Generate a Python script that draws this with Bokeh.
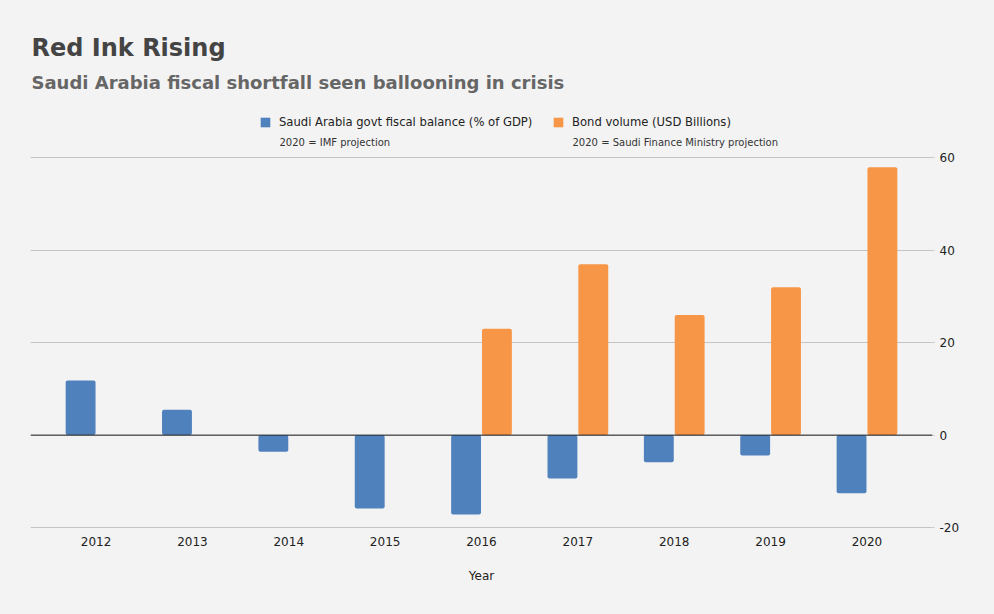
from bokeh.plotting import figure
from bokeh.models import ColumnDataSource, Range1d, FixedTicker, Span, Label, Legend, LegendItem
from bokeh.transform import dodge
from bokeh.embed import file_html
from bokeh.resources import INLINE

years = [2012, 2013, 2014, 2015, 2016, 2017, 2018, 2019, 2020]
year_labels = ["2012", "2013", "2014", "2015", "2016", "2017", "2018", "2019", "2020"]
fiscal_balance = [11.8, 5.5, -3.6, -15.9, -17.2, -9.4, -5.9, -4.4, -12.6]
bond_years = [2016, 2017, 2018, 2019, 2020]
bond_volume = [23, 37, 26, 32, 58]
y_ticks = [-20, 0, 20, 40, 60]
y_tick_labels = ["-20", "0", "20", "40", "60"]

BG = "#f3f3f3"
BLUE = "#4f81bd"
ORANGE = "#f79646"
FONT = "DejaVu Sans"

FRAME_LEFT = 30
FRAME_BOTTOM = 530

src_fiscal = ColumnDataSource(dict(x=years, y=fiscal_balance))
src_bond = ColumnDataSource(dict(x=bond_years, y=bond_volume))

p = figure(width=994, height=614, output_backend="svg", toolbar_location=None,
           x_range=Range1d(2011.32, 2020.68), y_range=Range1d(-20.65, 94.09),
           y_axis_location="right", title=None,
           frame_width=902, frame_height=530,
           min_border_left=FRAME_LEFT, min_border_top=0, min_border_right=62, min_border_bottom=84)
p.background_fill_color = BG
p.border_fill_color = BG
p.outline_line_color = None

r1 = p.vbar(x=dodge("x", -0.16, range=p.x_range), top="y", bottom=0, width=0.31,
            source=src_fiscal, fill_color=BLUE, line_color=None, border_radius=2)
r2 = p.vbar(x=dodge("x", 0.16, range=p.x_range), top="y", bottom=0, width=0.31,
            source=src_bond, fill_color=ORANGE, line_color=None, border_radius=2)

p.add_layout(Span(location=0, dimension="width", line_color="#222222", line_width=1))

p.xgrid.grid_line_color = None
p.ygrid.grid_line_color = "#c4c4c4"
p.ygrid.ticker = FixedTicker(ticks=y_ticks)

p.xaxis.ticker = FixedTicker(ticks=years)
p.xaxis.major_label_overrides = {y: l for y, l in zip(years, year_labels)}
p.xaxis.axis_line_color = None
p.xaxis.major_tick_line_color = None
p.xaxis.minor_tick_line_color = None
p.xaxis.major_label_text_font = FONT
p.xaxis.major_label_text_font_size = "12px"
p.xaxis.major_label_text_color = "#222222"
p.xaxis.major_label_standoff = 0
p.xaxis.axis_label = "Year"
p.xaxis.axis_label_text_font = FONT
p.xaxis.axis_label_text_font_size = "12px"
p.xaxis.axis_label_text_font_style = "normal"
p.xaxis.axis_label_text_color = "#222222"
p.xaxis.axis_label_standoff = 20

p.yaxis.ticker = FixedTicker(ticks=y_ticks)
p.yaxis.major_label_overrides = {t: l for t, l in zip(y_ticks, y_tick_labels)}
p.yaxis.axis_line_color = None
p.yaxis.major_tick_line_color = "#c4c4c4"
p.yaxis.major_tick_in = 0
p.yaxis.major_tick_out = 2
p.yaxis.minor_tick_line_color = None
p.yaxis.major_label_text_font = FONT
p.yaxis.major_label_text_font_size = "12px"
p.yaxis.major_label_text_color = "#222222"
p.yaxis.major_label_standoff = 5


def sx(page_x):
    return page_x - FRAME_LEFT


def sy(page_y):
    return FRAME_BOTTOM - page_y


p.add_layout(Label(x=sx(31), y=sy(47), x_units="screen", y_units="screen",
                   text="Red Ink Rising", text_font=FONT, text_font_size="24px",
                   text_font_style="bold", text_color="#444444", text_baseline="middle"))
p.add_layout(Label(x=sx(31), y=sy(82), x_units="screen", y_units="screen",
                   text="Saudi Arabia fiscal shortfall seen ballooning in crisis", text_font=FONT,
                   text_font_size="18px", text_font_style="bold", text_color="#666666",
                   text_baseline="middle"))

for rend, label, px in [(r1, "Saudi Arabia govt fiscal balance (% of GDP)", 259),
                        (r2, "Bond volume (USD Billions)", 552)]:
    lg = Legend(items=[LegendItem(label=label, renderers=[rend])],
                location=(sx(px), sy(129)), orientation="horizontal",
                glyph_width=12, glyph_height=12, label_standoff=8, padding=0, margin=0,
                label_height=12, label_text_font=FONT, label_text_font_size="11.6px",
                label_text_color="#222222", background_fill_alpha=0, border_line_color=None)
    p.add_layout(lg, "center")

p.add_layout(Label(x=sx(279), y=sy(142), x_units="screen", y_units="screen",
                   text="2020 = IMF projection", text_font=FONT, text_font_size="10px",
                   text_color="#333333", text_baseline="middle"))
p.add_layout(Label(x=sx(572), y=sy(142), x_units="screen", y_units="screen",
                   text="2020 = Saudi Finance Ministry projection", text_font=FONT,
                   text_font_size="10px", text_color="#333333", text_baseline="middle"))

html = file_html(p, INLINE)
html = html.replace("<head>", "<head><style>body{background:#f3f3f3;}</style>", 1)
open("out.html", "w").write(html)
